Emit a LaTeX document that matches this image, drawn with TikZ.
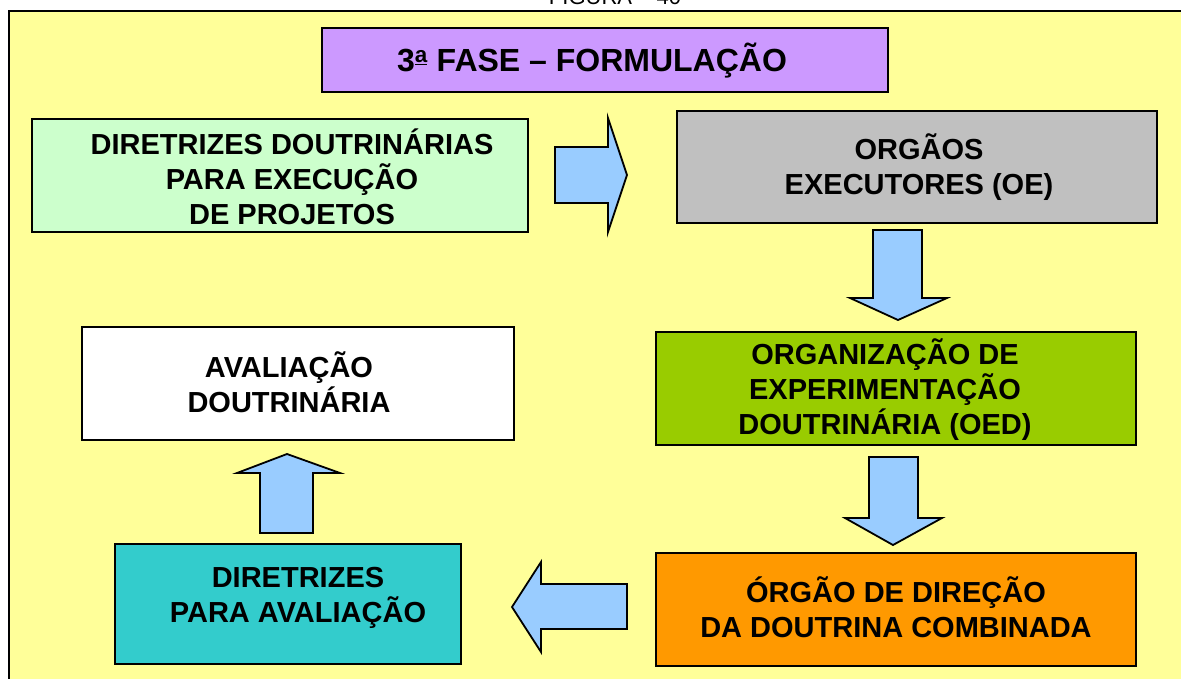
\documentclass[tikz,border=0pt]{standalone}
\usepackage{fontspec}
\setmainfont{Liberation Sans}
\definecolor{bgyellow}{HTML}{FFFF99}
\definecolor{titlepurple}{HTML}{CC99FF}
\definecolor{boxgreen}{HTML}{CCFFCC}
\definecolor{boxgray}{HTML}{C0C0C0}
\definecolor{boxolive}{HTML}{99CC00}
\definecolor{boxorange}{HTML}{FF9900}
\definecolor{boxteal}{HTML}{33CCCC}
\definecolor{arrowblue}{HTML}{99CCFF}
\tikzset{
  box/.style={draw=black, line width=2pt},
  blockarrow/.style={draw=black, fill=arrowblue, line width=1.8pt, line join=miter},
  label/.style={align=center, font=\fontsize{29}{35}\selectfont\bfseries, inner sep=0pt},
}
\begin{document}
\begin{tikzpicture}[x=1pt,y=-1pt]
\useasboundingbox (0,0) rectangle (1181,678);
\clip (0,0) rectangle (1181,678);
\fill[white] (0,0) rectangle (1181,678);
% caption (cut off at top, as in the reference)
\node[anchor=base, font=\fontsize{22}{26}\selectfont, inner sep=0pt] (cap) at (615,4) {FIGURA -- 40};
% outer frame
\draw[fill=bgyellow, line width=2pt] (9,11) rectangle (1200,700);
% title
\draw[box, fill=titlepurple] (322,28) rectangle (888,92);
\node[font=\fontsize{32}{36}\selectfont\bfseries, inner sep=0pt] (title) at (592,61) {3\textsuperscript{\underline{a}} FASE – FORMULAÇÃO};
% boxes
\draw[box, fill=boxgreen] (32,119) rectangle (528,232);
\node[label] (dir) at (292,177) {DIRETRIZES DOUTRINÁRIAS\\PARA EXECUÇÃO\\DE PROJETOS};
\draw[box, fill=boxgray] (677,111) rectangle (1157,223);
\node[label] (oe) at (919,167) {ORGÃOS\\EXECUTORES (OE)};
\draw[box, fill=boxolive] (656,332) rectangle (1136,445);
\node[label] (oed) at (885,390) {ORGANIZAÇÃO DE\\EXPERIMENTAÇÃO\\DOUTRINÁRIA (OED)};
\draw[box, fill=boxorange] (656,553) rectangle (1136,666);
\node[label] (odd) at (896,607) {ÓRGÃO DE DIREÇÃO\\DA DOUTRINA COMBINADA};
\draw[box, fill=boxteal] (115,544) rectangle (461,664);
\node[label] (dpa) at (298,598) {DIRETRIZES\\PARA AVALIAÇÃO};
\draw[box, fill=white] (82,327) rectangle (514,440);
\node[label] (ad) at (289,382) {AVALIAÇÃO\\DOUTRINÁRIA};
% block arrows
\draw[blockarrow] (555,147) -- (608,147) -- (608,118) -- (627,175) -- (608,232) -- (608,203) -- (555,203) -- cycle;
\draw[blockarrow] (873,230) -- (922,230) -- (922,298) -- (947,298) -- (898,320) -- (850,298) -- (873,298) -- cycle;
\draw[blockarrow] (869,457) -- (918,457) -- (918,518) -- (942,518) -- (893,545) -- (845,518) -- (869,518) -- cycle;
\draw[blockarrow] (627,584) -- (541,584) -- (541,562) -- (512,607) -- (541,652) -- (541,629) -- (627,629) -- cycle;
\draw[blockarrow] (260,533) -- (260,473) -- (237,473) -- (287,454) -- (340,473) -- (313,473) -- (313,533) -- cycle;
\end{tikzpicture}
\end{document}
